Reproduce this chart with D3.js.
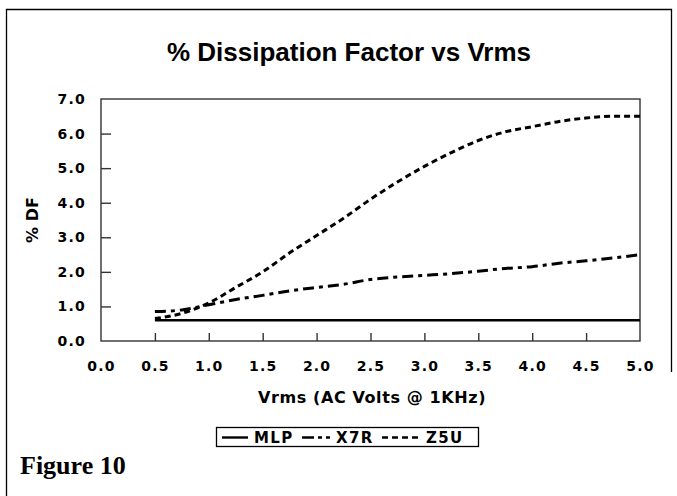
<!DOCTYPE html>
<html>
<head>
<meta charset="utf-8">
<script src="https://cdn.jsdelivr.net/npm/d3@7"></script>
<style>
  body { margin: 0; background: #fff; }
  svg { display: block; }
  .tick text { font-family: "DejaVu Sans", sans-serif; font-weight: bold; font-size: 14px; letter-spacing: 1.2px; }
</style>
</head>
<body>
<div class="canvas"></div>
<script>
// data
const volts = [0.5, 0.75, 1.0, 1.25, 1.5, 1.75, 2.0, 2.25, 2.5, 2.75, 3.0, 3.25, 3.5, 3.75, 4.0, 4.25, 4.5, 4.75, 5.0];
const mlp = [0.6, 0.6, 0.6, 0.6, 0.6, 0.6, 0.6, 0.6, 0.6, 0.6, 0.6, 0.6, 0.6, 0.6, 0.6, 0.6, 0.6, 0.6, 0.6];
const x7r = [0.85, 0.9, 1.05, 1.2, 1.32, 1.45, 1.55, 1.64, 1.78, 1.85, 1.9, 1.95, 2.02, 2.1, 2.15, 2.25, 2.32, 2.4, 2.5];
const z5u = [0.65, 0.8, 1.1, 1.55, 2.0, 2.55, 3.05, 3.55, 4.1, 4.6, 5.05, 5.45, 5.8, 6.05, 6.2, 6.35, 6.45, 6.5, 6.5];
const xTicks = [0, 0.5, 1, 1.5, 2, 2.5, 3, 3.5, 4, 4.5, 5];
const yTicks = [0, 1, 2, 3, 4, 5, 6, 7];
const seriesNames = ["MLP", "X7R", "Z5U"];

const W = 677, H = 496;
const pLeft = 101, pRight = 640, pTop = 99, pBottom = 341;

const svg = d3.select(".canvas").append("svg").attr("width", W).attr("height", H);

// outer frame (open at the bottom, right side stops short)
svg.append("path")
  .attr("d", `M6.5,${H} L6.5,9.5 L671.5,9.5 L671.5,372`)
  .attr("fill", "none").attr("stroke", "#000").attr("stroke-width", 1.3);

let x = d3.scaleLinear().domain([0, 5]).range([pLeft, pRight]);
let y = d3.scaleLinear().domain([0, 7]).range([pBottom, pTop]);

// plot box
svg.append("rect")
  .attr("x", pLeft).attr("y", pTop).attr("width", pRight - pLeft).attr("height", pBottom - pTop)
  .attr("fill", "none").attr("stroke", "#333").attr("stroke-width", 1.4);

// x axis, ticks pointing up into the plot
const xAxis = svg.append("g").attr("transform", `translate(0,${pBottom})`)
  .call(d3.axisBottom(x).tickValues(xTicks).tickFormat(d3.format(".1f")).tickSize(-8).tickPadding(20));
xAxis.select(".domain").remove();
xAxis.selectAll(".tick line").attr("stroke", "#333").attr("stroke-width", 1.4);
xAxis.selectAll(".tick").filter(d => d === 0 || d === 5).select("line").remove();

// y axis, ticks pointing right into the plot
const yAxis = svg.append("g").attr("transform", `translate(${pLeft},0)`)
  .call(d3.axisLeft(y).tickValues(yTicks).tickFormat(d3.format(".1f")).tickSize(-10).tickPadding(15));
yAxis.select(".domain").remove();
yAxis.selectAll(".tick line").attr("stroke", "#333").attr("stroke-width", 1.4);
yAxis.selectAll(".tick").filter(d => d === 0 || d === 7).select("line").remove();

const styles = {
  MLP: { dash: null, width: 2.6, legLen: 26, legDash: null },
  X7R: { dash: "11,5,4,5", width: 3, legLen: 28, legDash: "12,4,4,4" },
  Z5U: { dash: "6,4", width: 3, legLen: 38, legDash: "6,4" }
};
const values = { MLP: mlp, X7R: x7r, Z5U: z5u };

const line = d3.line().x(d => x(d[0])).y(d => y(d[1])).curve(d3.curveMonotoneX);

seriesNames.forEach(name => {
  svg.append("path")
    .datum(volts.map((v, i) => [v, values[name][i]]))
    .attr("fill", "none")
    .attr("stroke", "#000")
    .attr("stroke-width", styles[name].width)
    .attr("stroke-dasharray", styles[name].dash)
    .attr("d", line);
});

// titles
svg.append("text").attr("x", 349).attr("y", 61).attr("text-anchor", "middle")
  .style("font-family", "Arial, 'Liberation Sans', sans-serif").style("font-weight", "bold").style("font-size", "26px")
  .text("% Dissipation Factor vs Vrms");

svg.append("text").attr("x", 372).attr("y", 403).attr("text-anchor", "middle")
  .style("font-family", "'DejaVu Sans', sans-serif").style("font-weight", "bold").style("font-size", "16px")
  .style("letter-spacing", "0.6px")
  .text("Vrms (AC Volts @ 1KHz)");

svg.append("text").attr("transform", `translate(38,${(pTop + pBottom) / 2}) rotate(-90)`).attr("text-anchor", "middle")
  .style("font-family", "'DejaVu Sans', sans-serif").style("font-weight", "bold").style("font-size", "16px")
  .text("% DF");

svg.append("text").attr("x", 20).attr("y", 474)
  .style("font-family", "'Liberation Serif', 'Times New Roman', serif").style("font-weight", "bold").style("font-size", "26px")
  .text("Figure 10");

// legend
const lg = svg.append("g").attr("transform", "translate(216,427)");
lg.append("rect").attr("x", 0.5).attr("y", 0.5).attr("width", 262).attr("height", 19)
  .attr("fill", "#fff").attr("stroke", "#000").attr("stroke-width", 1.3);
const legX = [6, 86, 166];
seriesNames.forEach((name, i) => {
  const s = styles[name];
  lg.append("line").attr("x1", legX[i]).attr("x2", legX[i] + s.legLen).attr("y1", 10.5).attr("y2", 10.5)
    .attr("stroke", "#000").attr("stroke-width", 2.4).attr("stroke-dasharray", s.legDash);
  lg.append("text").attr("x", legX[i] + s.legLen + 6).attr("y", 15.5)
    .style("font-family", "'DejaVu Sans', sans-serif").style("font-weight", "bold").style("font-size", "15px")
    .style("letter-spacing", "1.4px")
    .text(name);
});
</script>
</body>
</html>
